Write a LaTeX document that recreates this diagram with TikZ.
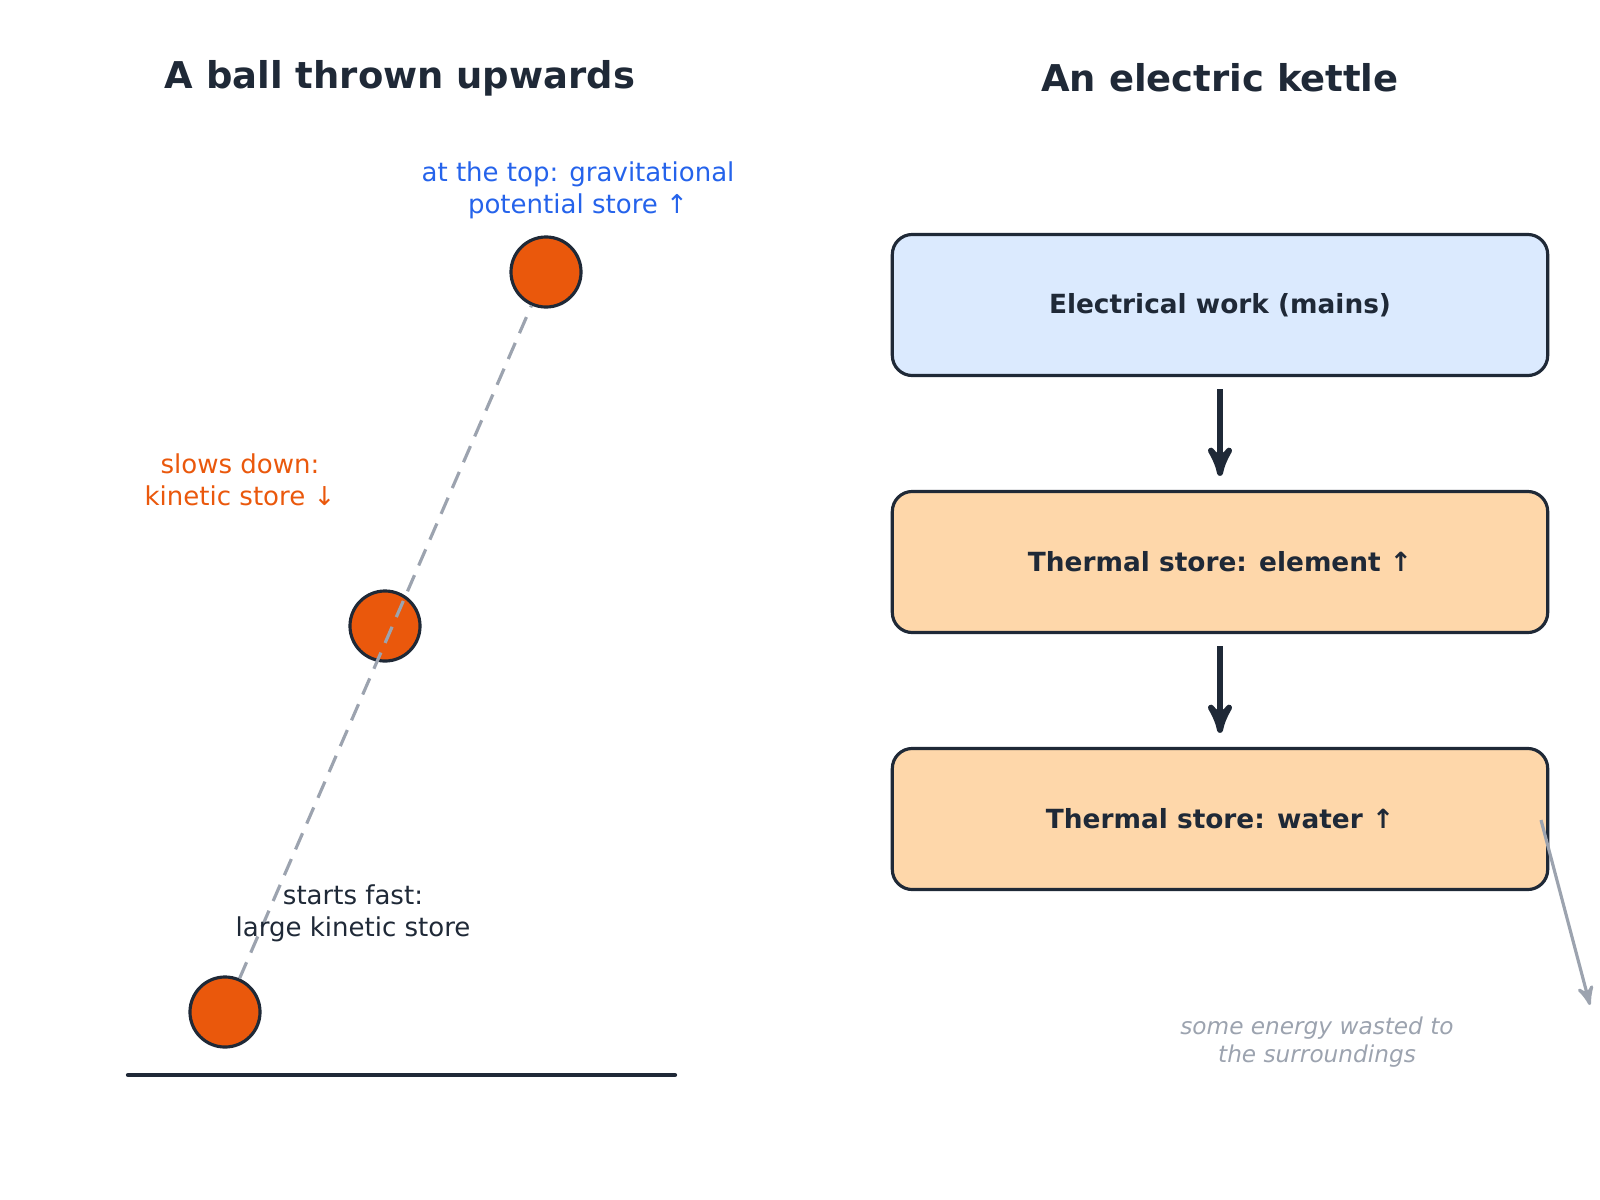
\documentclass[tikz,border=0pt]{standalone}
\usepackage{fontspec}
\setmainfont{DejaVu Sans}
\usepackage{xcolor}
\usepackage{tikz}
\usetikzlibrary{arrows}
\definecolor{ink}{HTML}{1F2937}
\definecolor{ballfill}{HTML}{EA580C}
\definecolor{trail}{HTML}{9CA3AF}
\definecolor{topblue}{HTML}{2563EB}
\definecolor{workfill}{HTML}{DBEAFE}
\definecolor{heatfill}{HTML}{FED7AA}
\tikzset{
	title node/.style={font=\fontsize{10.5pt}{12pt}\selectfont\bfseries,text=ink},
	ball node/.style={circle,draw=ink,fill=ballfill,line width=0.9pt,minimum size=0.7cm,inner sep=0pt},
	note node/.style={align=center,font=\fontsize{7.4pt}{9pt}\selectfont},
	store node/.style={rectangle,rounded corners=0.2cm,draw=ink,line width=0.9pt,minimum width=6.55cm,
		minimum height=1.41cm,font=\fontsize{7.5pt}{9pt}\selectfont\bfseries,text=ink},
	flow/.style={->,>=stealth',draw=ink,line width=1.7pt}
}
\begin{document}
\begin{tikzpicture}[x=0.01cm,y=-0.01cm]
	\useasboundingbox (0,0) rectangle (1600,1200);
	% left: the ball
	\node [title node] (balltitle) at (400,78) {A ball thrown upwards};
	\node [ball node] (low) at (225,1012) {};
	\node [ball node] (mid) at (385,626) {};
	\node [ball node] (high) at (546,272) {};
	\coordinate (groundL) at (128,1075);
	\coordinate (groundR) at (675,1075);
	\draw [ink,line width=1.2pt,line cap=round] (groundL) -- (groundR);
	\draw [trail,line width=0.9pt,dashed,dash pattern=on 5pt off 3pt] (low) -- (high);
	\node [note node,text=topblue] (topnote) at (578,190) {at the top: gravitational\\potential store ↑};
	\node [note node,text=ballfill] (midnote) at (240,480) {slows down:\\kinetic store ↓};
	\node [note node,text=ink] (lownote) at (353,913) {starts fast:\\large kinetic store};
	% right: the kettle
	\node [title node] (kettletitle) at (1220,78) {An electric kettle};
	\node [store node,fill=workfill] (mains) at (1220,305) {Electrical work (mains)};
	\node [store node,fill=heatfill] (element) at (1220,562) {Thermal store: element ↑};
	\node [store node,fill=heatfill] (water) at (1220,819) {Thermal store: water ↑};
	\draw [flow] ([yshift=-0.12cm]mains.south) -- ([yshift=0.14cm]element.north);
	\draw [flow] ([yshift=-0.12cm]element.south) -- ([yshift=0.14cm]water.north);
	\coordinate (leakstart) at (1541,820);
	\coordinate (leakend) at (1590,1005);
	\draw [->,>=stealth',trail,line width=0.9pt] (leakstart) -- (leakend);
	\node [note node,text=trail,font=\fontsize{6.6pt}{8pt}\selectfont\itshape] (leaknote) at (1317,1042)
		{some energy wasted to\\the surroundings};
\end{tikzpicture}
\end{document}
